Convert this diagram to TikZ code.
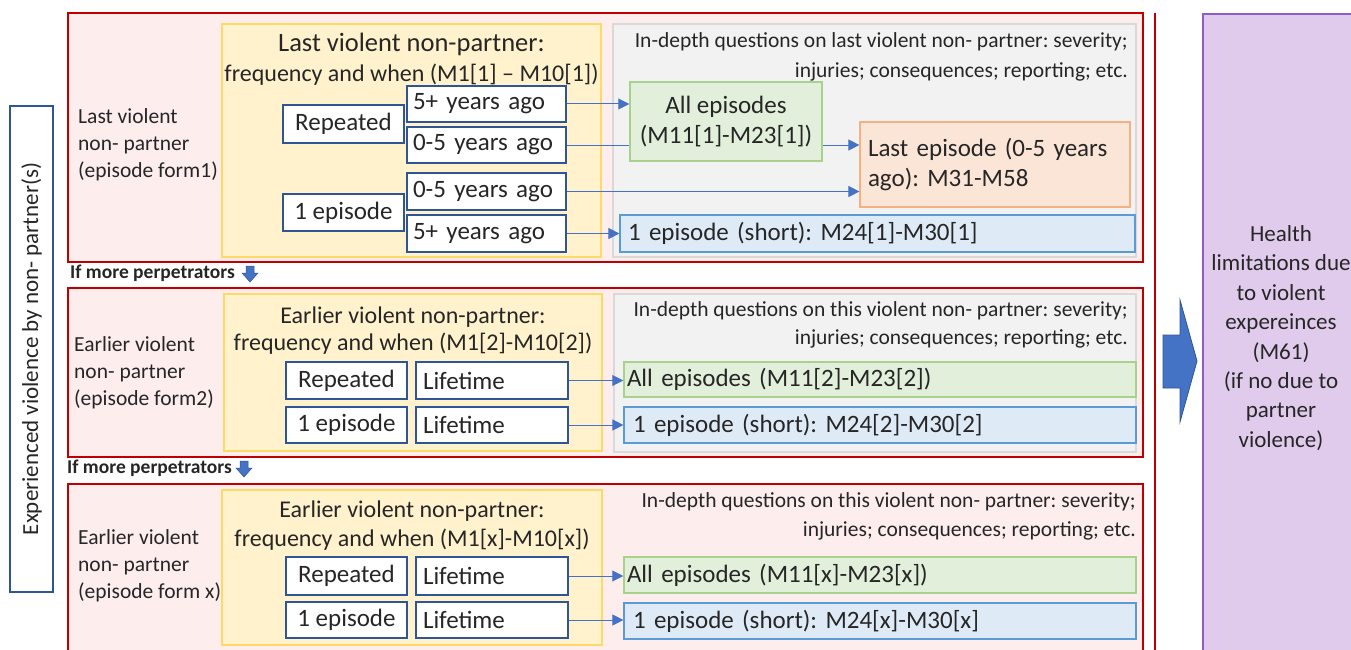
\documentclass[tikz,border=0pt]{standalone}
\usepackage{fontspec}
\setmainfont{Carlito}
\usetikzlibrary{arrows.meta}
\frenchspacing
\definecolor{redb}{HTML}{C00000}
\definecolor{pinkf}{HTML}{FDEDED}
\definecolor{yelf}{HTML}{FFF2CC}
\definecolor{yelb}{HTML}{FFD966}
\definecolor{grayf}{HTML}{F2F2F2}
\definecolor{grayb}{HTML}{D9D9D9}
\definecolor{boxb}{HTML}{2F5597}
\definecolor{grnf}{HTML}{E2EFDA}
\definecolor{grnb}{HTML}{A9D18E}
\definecolor{orf}{HTML}{FBE5D6}
\definecolor{orb}{HTML}{F4B183}
\definecolor{bluf}{HTML}{DEEBF7}
\definecolor{blub}{HTML}{5B9BD5}
\definecolor{arrc}{HTML}{4472C4}
\definecolor{arrd}{HTML}{2F5597}
\definecolor{purf}{HTML}{E0CBEC}
\definecolor{purb}{HTML}{8E5CC6}
\definecolor{txtc}{HTML}{262626}
\newcommand\fmain{\fontsize{25}{30}\selectfont}
\newcommand\fsmall{\fontsize{21.5}{30}\selectfont}
\newcommand\flab{\fontsize{21.5}{27}\selectfont}
\newcommand\fpur{\fontsize{23}{29.4}\selectfont}
\newcommand\fif{\fontsize{19.5}{20}\selectfont\bfseries}
\begin{document}
\begin{tikzpicture}[x=1pt,y=-1pt,
  every node/.style={text=txtc},
  panel/.style={draw=redb, fill=pinkf, line width=2.4pt, inner sep=0pt, minimum width=1075pt},
  ybox/.style={draw=yelb, fill=yelf, line width=1.5pt, inner sep=0pt},
  gbox/.style={draw=grayb, fill=grayf, line width=1.5pt, inner sep=0pt},
  wbox/.style={draw=boxb, fill=white, line width=1.2pt, inner sep=0pt, font=\fmain},
  lbox/.style={align=left, inner ysep=0pt},
  grbox/.style={draw=grnb, fill=grnf, line width=1.5pt, inner sep=0pt, font=\fmain},
  orbox/.style={draw=orb, fill=orf, line width=1.2pt, inner sep=0pt, font=\fmain},
  blbox/.style={draw=blub, fill=bluf, line width=1.2pt, inner sep=0pt, font=\fmain},
  conn/.style={draw=arrc, line width=1pt},
  arrow/.style={conn, -{Triangle[length=11pt,width=11pt]}},
  ttl/.style={align=center, inner sep=0pt},
  side/.style={font=\flab, align=left, anchor=west, inner sep=0pt},
  gtxt/.style={font=\fsmall, align=right, anchor=east, inner sep=0pt},
  iftxt/.style={font=\fif, anchor=west, inner sep=0pt}
]
\useasboundingbox (0,0) rectangle (1351,650);
\fill[white] (0,0) rectangle (1351,650);

% left vertical box
\node[draw=boxb, fill=white, line width=1.2pt, rotate=90, minimum width=486pt, minimum height=43pt, inner sep=0pt, font=\fontsize{23}{26}\selectfont] (exp) at (31.5,349) {Experienced violence by non- partner(s)};

% right vertical line
\coordinate (vl1) at (1155,13);
\coordinate (vl2) at (1155,660);
\draw[redb, line width=2pt] (vl1) -- (vl2);

% purple box
\node[draw=purb, fill=purf, line width=1.2pt, minimum width=160pt, minimum height=650pt, inner sep=0pt] (pur) at (1283,339) {};
\node[font=\fpur, align=center, inner sep=0pt] (purt) at (1281,338) {Health\\limitations due\\to violent\\expereinces\\(M61)\\(if no due to\\partner\\violence)};

% big arrow
\filldraw[fill=arrc, draw=arrd, line width=0.8pt] (1163,335) -- (1180,335) -- (1180,300) -- (1197,361) -- (1180,422) -- (1180,388) -- (1163,388) -- cycle;

% ================= Panel 1
\node[panel, minimum height=249pt] (p1) at (605.5,137.5) {};
\node[ybox, minimum width=379pt, minimum height=233pt] (y1) at (411.5,140.5) {};
\node[gbox, minimum width=523pt, minimum height=233pt] (g1) at (874.5,140.5) {};
\node[ttl, font=\fontsize{24}{30}\selectfont] (y1t) at (411.5,59) {{\fontsize{26.5}{30}\selectfont Last violent non-partner:}\\frequency and when (M1[1] – M10[1])};
\node[side] (s1) at (78,145) {Last violent\\non- partner\\(episode form1)};
\node[gtxt] (g1t) at (1128,57) {In-depth questions on last violent non- partner: severity;\\injuries; consequences; reporting; etc.};

\node[wbox, minimum width=121pt, minimum height=38pt] (rep1) at (343.5,124) {Repeated};
\node[wbox, minimum width=121pt, minimum height=37pt] (epi1) at (343.5,212.5) {1 episode};
\node[wbox, lbox, minimum width=159pt, minimum height=36pt, inner xsep=6pt, text width=147pt] (t1a) at (486.5,104) {5+ years ago};
\node[wbox, lbox, minimum width=159pt, minimum height=36pt, inner xsep=6pt, text width=147pt] (t1b) at (486.5,145) {0-5 years ago};
\node[wbox, lbox, minimum width=159pt, minimum height=37pt, inner xsep=6pt, text width=147pt] (t1c) at (486.5,191.5) {0-5 years ago};
\node[wbox, lbox, minimum width=159pt, minimum height=37pt, inner xsep=6pt, text width=147pt] (t1d) at (486.5,233.5) {5+ years ago};

\node[grbox, align=center, minimum width=192pt, minimum height=79pt] (gr1) at (726,121.5) {All episodes\\(M11[1]-M23[1])};
\node[orbox, lbox, minimum width=270pt, minimum height=85pt, inner xsep=8pt, text width=254pt] (or1) at (995,164.5) {Last episode (0-5 years\\ago): M31-M58};
\node[blbox, lbox, minimum width=515pt, minimum height=37pt, inner xsep=8pt, text width=499pt] (bl1) at (877.5,233.5) {1 episode (short): M24[1]-M30[1]};

\draw[arrow] (t1a.east) -- (t1a.east -| gr1.west);
\draw[conn] (t1b.east) -- (t1b.east -| gr1.west);
\draw[arrow] (t1b.east -| gr1.east) -- (t1b.east -| or1.west);
\draw[arrow] (t1c.east) -- (t1c.east -| or1.west);
\draw[arrow] (t1d.east) -- (t1d.east -| bl1.west);

% if more 1
\node[iftxt] (if1) at (70,273) {If more perpetrators};
\filldraw[fill=arrc, draw=arrd, line width=0.5pt] (246,266) -- (254,266) -- (254,273) -- (258,273) -- (250,282) -- (242,273) -- (246,273) -- cycle;

% ================= Panel 2
\node[panel, minimum height=169pt] (p2) at (605.5,372.5) {};
\node[ybox, minimum width=378pt, minimum height=157pt] (y2) at (413,372.5) {};
\node[gbox, minimum width=522pt, minimum height=158pt] (g2) at (875,373) {};
\node[ttl, font=\fontsize{24}{27}\selectfont] (y2t) at (413,331) {Earlier violent non-partner:\\frequency and when (M1[2]-M10[2])};
\node[side] (s2) at (74,372.5) {Earlier violent\\non- partner\\(episode form2)};
\node[gtxt, font=\fontsize{21.5}{28}\selectfont] (g2t) at (1128,325) {In-depth questions on this violent non- partner: severity;\\injuries; consequences; reporting; etc.};

\node[wbox, minimum width=121pt, minimum height=37pt] (rep2) at (346.5,380.5) {Repeated};
\node[wbox, lbox, minimum width=152pt, minimum height=37pt, inner xsep=7pt, text width=138pt] (l2a) at (492,380.5) {Lifetime};
\node[wbox, minimum width=121pt, minimum height=36pt] (epi2) at (346.5,425) {1 episode};
\node[wbox, lbox, minimum width=152pt, minimum height=36pt, inner xsep=7pt, text width=138pt] (l2b) at (492,425) {Lifetime};
\node[grbox, lbox, minimum width=512pt, minimum height=35pt, inner xsep=3pt, text width=506pt] (gr2) at (880,379.5) {All episodes (M11[2]-M23[2])};
\node[blbox, lbox, minimum width=512pt, minimum height=36pt, inner xsep=9pt, text width=494pt] (bl2) at (880,425) {1 episode (short): M24[2]-M30[2]};

\draw[arrow] (l2a.east) -- (l2a.east -| gr2.west);
\draw[arrow] (l2b.east) -- (l2b.east -| bl2.west);

% if more 2
\node[iftxt] (if2) at (67,468) {If more perpetrators};
\filldraw[fill=arrc, draw=arrd, line width=0.5pt] (240,461) -- (248,461) -- (248,468) -- (252,468) -- (244,477) -- (236,468) -- (240,468) -- cycle;

% ================= Panel 3
\node[panel, minimum height=176pt] (p3) at (605.5,572) {};
\node[ybox, minimum width=380pt, minimum height=155pt] (y3) at (412,567.5) {};
\node[ttl, font=\fontsize{24}{29}\selectfont] (y3t) at (412,526) {Earlier violent non-partner:\\frequency and when (M1[x]-M10[x])};
\node[side] (s3) at (78,566) {Earlier violent\\non- partner\\(episode form x)};
\node[gtxt, font=\fontsize{21.5}{29}\selectfont] (g3t) at (1136,516) {In-depth questions on this violent non- partner: severity;\\injuries; consequences; reporting; etc.};

\node[wbox, minimum width=121pt, minimum height=38pt] (rep3) at (346.5,576) {Repeated};
\node[wbox, lbox, minimum width=152pt, minimum height=38pt, inner xsep=7pt, text width=138pt] (l3a) at (492,576) {Lifetime};
\node[wbox, minimum width=121pt, minimum height=36pt] (epi3) at (346.5,620) {1 episode};
\node[wbox, lbox, minimum width=152pt, minimum height=36pt, inner xsep=7pt, text width=138pt] (l3b) at (492,620) {Lifetime};
\node[grbox, lbox, minimum width=512pt, minimum height=36pt, inner xsep=3pt, text width=506pt] (gr3) at (880,575) {All episodes (M11[x]-M23[x])};
\node[blbox, lbox, minimum width=512pt, minimum height=36pt, inner xsep=9pt, text width=494pt] (bl3) at (880,621) {1 episode (short): M24[x]-M30[x]};

\draw[arrow] (l3a.east) -- (l3a.east -| gr3.west);
\draw[arrow] (l3b.east) -- (l3b.east -| bl3.west);
\end{tikzpicture}
\end{document}
